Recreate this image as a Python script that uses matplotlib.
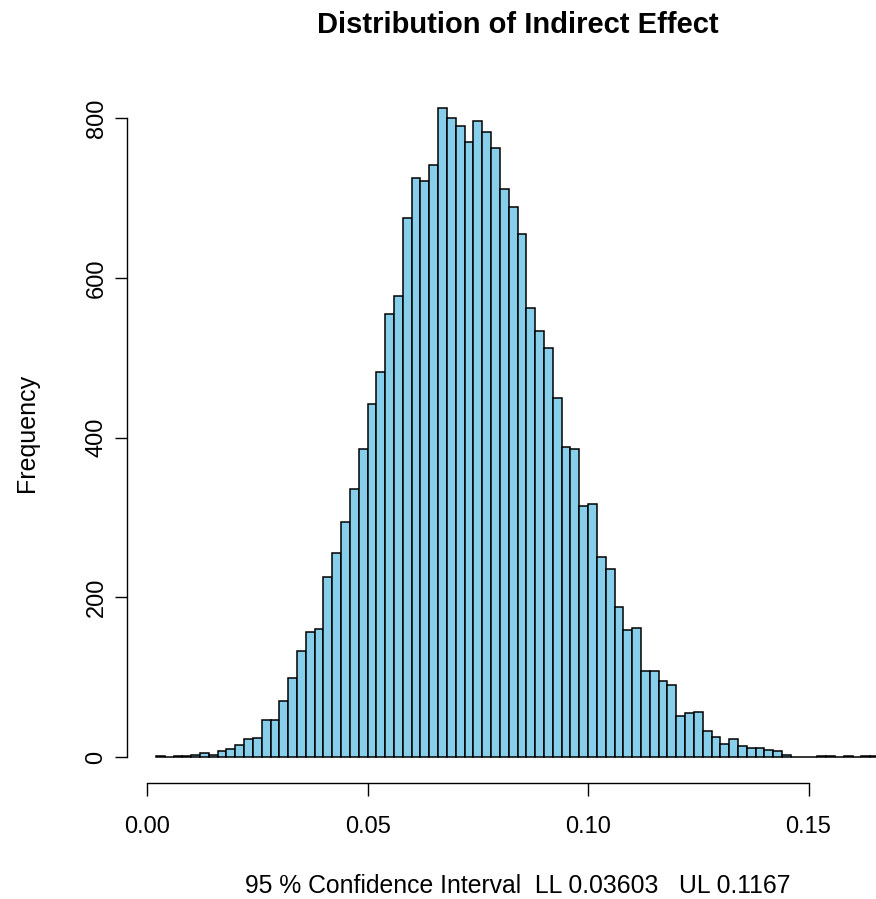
import numpy as np
import matplotlib
matplotlib.use("Agg")
import matplotlib.pyplot as plt

# histogram of bootstrapped indirect effects (bin width 0.002, first break 0.002)
bin_start = 0.002
bin_width = 0.002
counts = [
    1, 0, 1, 1, 2, 5, 3, 7, 10, 15,
    22, 24, 47, 47, 70, 99, 133, 157, 160, 225,
    255, 295, 336, 386, 442, 482, 555, 578, 675, 725,
    722, 741, 813, 800, 790, 770, 797, 783, 763, 711,
    689, 655, 563, 534, 512, 450, 388, 386, 315, 317,
    251, 236, 188, 159, 161, 108, 108, 95, 90, 52,
    55, 57, 32, 25, 16, 22, 14, 11, 11, 9,
    7, 3, 0, 0, 0, 1, 1, 0, 1, 0,
    1, 1,
]
x_ticks = [0.00, 0.05, 0.10, 0.15]
y_ticks = [0, 200, 400, 600, 800]

title = "Distribution of Indirect Effect"
x_label = "95 % Confidence Interval  LL 0.03603   UL 0.1167"
y_label = "Frequency"

plt.rcParams["font.family"] = ["Liberation Sans", "DejaVu Sans"]

W, H = 876, 899
fig = plt.figure(figsize=(W / 100, H / 100), dpi=100)

# plot region in pixels (R style, extends past the right edge)
left, right, top, bottom = 127, 908, 82, 783
ax = fig.add_axes([left / W, 1 - bottom / H, (right - left) / W, (bottom - top) / H])

edges = bin_start + bin_width * np.arange(len(counts) + 1)
ax.bar(edges[:-1], counts, width=bin_width, align="edge",
       color="skyblue", edgecolor="black", linewidth=1.1)

lo, hi = edges[0], edges[-1]
pad = 0.04 * (hi - lo)
ax.set_xlim(lo - pad, hi + pad)
ymax = max(counts)
ax.set_ylim(-0.04 * ymax, ymax * 1.04)

for s in ["top", "right"]:
    ax.spines[s].set_visible(False)
ax.spines["left"].set_bounds(y_ticks[0], y_ticks[-1])
ax.spines["bottom"].set_bounds(x_ticks[0], x_ticks[-1])
for s in ["left", "bottom"]:
    ax.spines[s].set_linewidth(1.0)

ax.set_xticks(x_ticks)
ax.set_xticklabels([f"{v:.2f}" for v in x_ticks])
ax.set_yticks(y_ticks)
ax.set_yticklabels([str(v) for v in y_ticks], rotation=90, va="center")
ax.tick_params(direction="out", length=9, width=1.0, labelsize=17, pad=15)
ax.tick_params(axis="y", pad=5)

fig.text((left + right) / 2 / W, 1 - 25 / H, title, ha="center", va="center",
         fontsize=21, fontweight="bold")
fig.text((left + right) / 2 / W, 1 - 886 / H, x_label, ha="center", va="center",
         fontsize=17.8)
fig.text(27 / W, 1 - (top + bottom) / 2 / H, y_label, ha="center", va="center",
         rotation=90, fontsize=18)

fig.savefig("out.png", dpi=100)
